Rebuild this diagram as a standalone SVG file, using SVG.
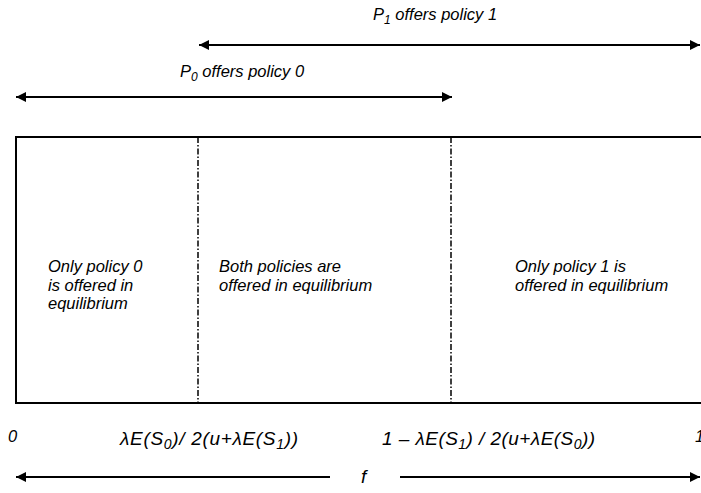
<svg xmlns="http://www.w3.org/2000/svg" width="701" height="493" viewBox="0 0 701 493">
<style>
text{font-family:"Liberation Sans",Arial,sans-serif;font-style:italic;font-size:16.5px;fill:#000}
.sub{font-size:12px}
.f{font-size:19px}
.fs{font-size:14px}
.ln{stroke:#000;stroke-width:2;fill:none}
.div{stroke:#000;stroke-width:1.5;stroke-dasharray:6 2 1.5 2;fill:none}
</style>
<defs>
<marker id="ah" viewBox="0 0 10 10" refX="10" refY="5" markerWidth="5.5" markerHeight="5" orient="auto-start-reverse" markerUnits="strokeWidth">
<path d="M0,0 L10,5 L0,10 Z" fill="#000"/>
</marker>
</defs>
<g id="box">
<path class="ln" d="M710,137 H16 V403 H710"/>
</g>
<g id="dividers">
<line class="div" x1="198" y1="137" x2="198" y2="403"/>
<line class="div" x1="451" y1="137" x2="451" y2="403"/>
</g>
<g id="connectors">
<line class="ln" x1="199" y1="45" x2="700" y2="45" marker-start="url(#ah)" marker-end="url(#ah)"/>
<line class="ln" x1="16" y1="97" x2="452" y2="97" marker-start="url(#ah)" marker-end="url(#ah)"/>
<line class="ln" x1="16" y1="477" x2="330" y2="477" marker-start="url(#ah)"/>
<line class="ln" x1="400" y1="477" x2="700" y2="477" marker-end="url(#ah)"/>
</g>
<g id="label-p1">
<text x="373" y="20">P<tspan class="sub" dy="4">1</tspan><tspan dy="-4"> offers policy 1</tspan></text>
</g>
<g id="label-p0">
<text x="180" y="77">P<tspan class="sub" dy="4">0</tspan><tspan dy="-4"> offers policy 0</tspan></text>
</g>
<g id="region-0">
<text x="48" y="272">Only policy 0</text>
<text x="48" y="290.5">is offered in</text>
<text x="48" y="309">equilibrium</text>
</g>
<g id="region-both">
<text x="219" y="272">Both policies are</text>
<text x="219" y="290.5">offered in equilibrium</text>
</g>
<g id="region-1">
<text x="515" y="272">Only policy 1 is</text>
<text x="515" y="290.5">offered in equilibrium</text>
</g>
<g id="axis-labels">
<text x="8" y="442">0</text>
<text class="f" x="120" y="445" textLength="178" lengthAdjust="spacing">λE(S<tspan class="fs" dy="4">0</tspan><tspan dy="-4">)/ 2(u+λE(S</tspan><tspan class="fs" dy="4">1</tspan><tspan dy="-4">))</tspan></text>
<text class="f" x="382" y="445" textLength="213" lengthAdjust="spacing">1 – λE(S<tspan class="fs" dy="4">1</tspan><tspan dy="-4">) / 2(u+λE(S</tspan><tspan class="fs" dy="4">0</tspan><tspan dy="-4">))</tspan></text>
<text x="695" y="442">1</text>
<text class="f" x="361" y="483">f</text>
</g>
</svg>
